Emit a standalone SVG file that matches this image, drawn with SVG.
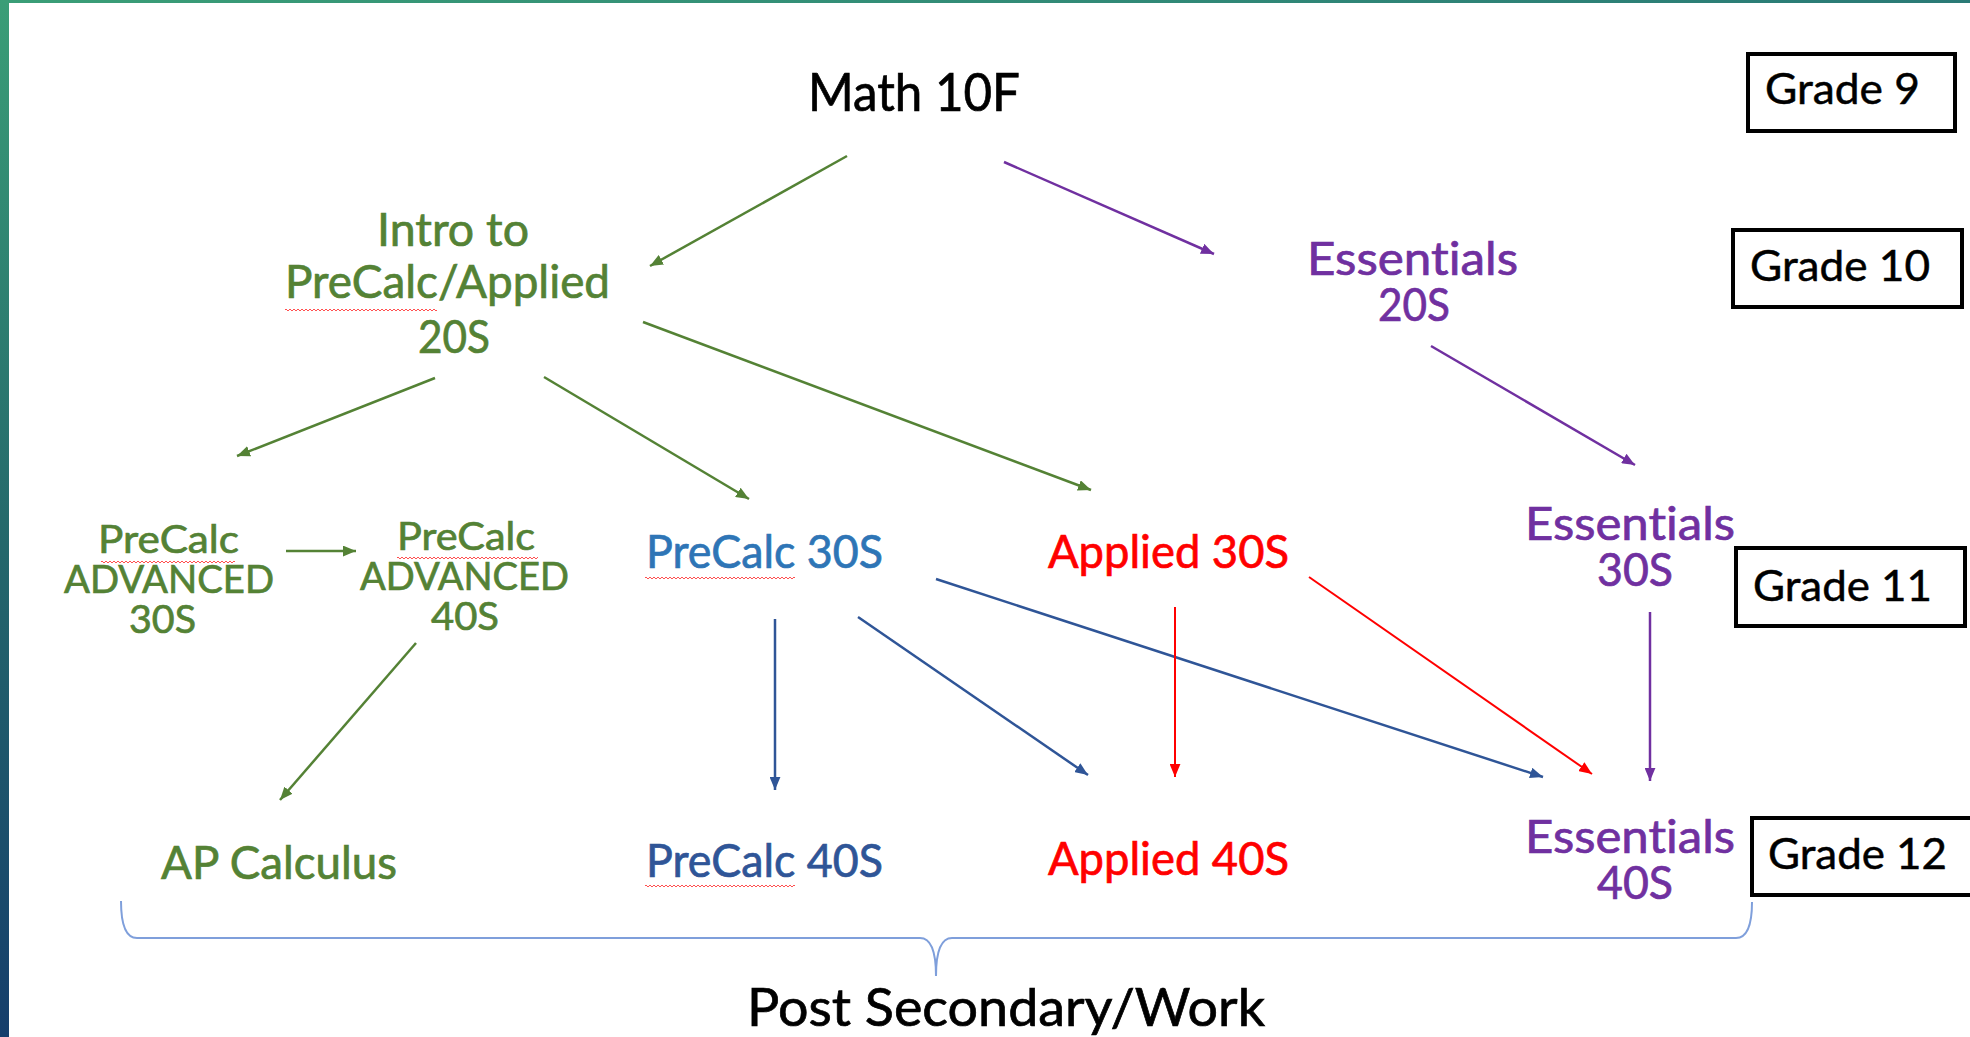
<svg xmlns="http://www.w3.org/2000/svg" width="1970" height="1037" viewBox="0 0 1970 1037">
<defs>
<linearGradient id="sideGrad" x1="0" y1="0" x2="0" y2="1">
<stop offset="0" stop-color="#3a9e77"/>
<stop offset="0.5" stop-color="#256a6c"/>
<stop offset="1" stop-color="#153e6c"/>
</linearGradient>
<linearGradient id="topGrad" x1="0" y1="0" x2="1" y2="0">
<stop offset="0" stop-color="#3a9e77"/>
<stop offset="1" stop-color="#2a7a76"/>
</linearGradient>
<pattern id="wave" width="4" height="4" patternUnits="userSpaceOnUse">
<path d="M0,3 L2,1 L4,3" fill="none" stroke="#ff5050" stroke-width="1"/>
</pattern>
<marker id="ahG" viewBox="0 0 12 10" refX="12" refY="5" markerWidth="13" markerHeight="11" markerUnits="userSpaceOnUse" orient="auto"><path d="M0,0 L12,5 L0,10 Z" fill="#548235"/></marker>
<marker id="ahP" viewBox="0 0 12 10" refX="12" refY="5" markerWidth="13" markerHeight="11" markerUnits="userSpaceOnUse" orient="auto"><path d="M0,0 L12,5 L0,10 Z" fill="#7030a0"/></marker>
<marker id="ahB" viewBox="0 0 12 10" refX="12" refY="5" markerWidth="13" markerHeight="11" markerUnits="userSpaceOnUse" orient="auto"><path d="M0,0 L12,5 L0,10 Z" fill="#2f5597"/></marker>
<marker id="ahR" viewBox="0 0 12 10" refX="12" refY="5" markerWidth="13" markerHeight="11" markerUnits="userSpaceOnUse" orient="auto"><path d="M0,0 L12,5 L0,10 Z" fill="#ff0000"/></marker>
</defs>
<style>
text { font-family: "Lato", "Open Sans", "Liberation Sans", sans-serif; font-variant-ligatures: none; stroke-width: 0.7px; }
.big { font-size: 52px; fill: #000; stroke: #000; }
.lbl { font-size: 46px; }
.adv { font-size: 39px; fill: #548235; stroke: #548235; }
.grade { font-size: 42px; fill: #000; stroke: #000; stroke-width: 0.5px; }
.green { fill: #548235; stroke: #548235; }
.purple { fill: #7030a0; stroke: #7030a0; }
.blue { fill: #2e75b6; stroke: #2e75b6; }
.dblue { fill: #2f5597; stroke: #2f5597; }
.red { fill: #ff0000; stroke: #ff0000; }
.box { fill: none; stroke: #000; stroke-width: 4; }
.cg { stroke: #548235; stroke-width: 2.5; fill: none; marker-end: url(#ahG); }
.cp { stroke: #7030a0; stroke-width: 2.5; fill: none; marker-end: url(#ahP); }
.cb { stroke: #2f5597; stroke-width: 2.5; fill: none; marker-end: url(#ahB); }
.cr { stroke: #ff0000; stroke-width: 2; fill: none; marker-end: url(#ahR); }
.brace { stroke: #7f9fdb; stroke-width: 2; fill: none; }
.wv { fill: url(#wave); }
</style>
<rect x="0" y="0" width="1970" height="1037" fill="#ffffff"/>
<rect x="0" y="0" width="1970" height="3" fill="url(#topGrad)"/>
<rect x="0" y="0" width="9" height="1037" fill="url(#sideGrad)"/>

<g id="connectors">
<line class="cg" x1="847" y1="156" x2="650" y2="266"/>
<line class="cp" x1="1004" y1="162" x2="1214" y2="254"/>
<line class="cg" x1="435" y1="378" x2="237" y2="456"/>
<line class="cg" x1="544" y1="377" x2="749" y2="499"/>
<line class="cg" x1="643" y1="322" x2="1091" y2="490"/>
<line class="cg" x1="286" y1="551" x2="356" y2="551"/>
<line class="cg" x1="416" y1="643" x2="280" y2="800"/>
<line class="cp" x1="1431" y1="346" x2="1635" y2="465"/>
<line class="cp" x1="1650" y1="612" x2="1650" y2="781"/>
<line class="cb" x1="775" y1="619" x2="775" y2="790"/>
<line class="cb" x1="858" y1="617" x2="1088" y2="775"/>
<line class="cb" x1="936" y1="579" x2="1543" y2="777"/>
<line class="cr" x1="1175" y1="607" x2="1175" y2="777"/>
<line class="cr" x1="1309" y1="577" x2="1592" y2="774"/>
<path class="brace" d="M121,901 Q121,938 137,938 L920,938 Q936,938 936,976 Q936,938 952,938 L1736,938 Q1752,938 1752,902"/>
</g>

<g id="math10f"><text class="big" x="808" y="111" textLength="212" lengthAdjust="spacingAndGlyphs">Math 10F</text></g>

<g id="intro20s">
<text class="lbl green" x="377" y="246" textLength="152" lengthAdjust="spacingAndGlyphs">Intro to</text>
<text class="lbl green" x="285" y="298" textLength="325" lengthAdjust="spacingAndGlyphs">PreCalc/Applied</text>
<text class="lbl green" x="418" y="353" textLength="72" lengthAdjust="spacingAndGlyphs">20S</text>
<rect class="wv" x="285" y="309" width="152" height="4"/>
</g>

<g id="essentials20s">
<text class="lbl purple" x="1307" y="275" textLength="211" lengthAdjust="spacingAndGlyphs">Essentials</text>
<text class="lbl purple" x="1378" y="321" textLength="72" lengthAdjust="spacingAndGlyphs">20S</text>
</g>

<g id="precalcadv30s">
<text class="adv" x="98" y="553" textLength="141" lengthAdjust="spacingAndGlyphs">PreCalc</text>
<text class="adv" x="64" y="593" textLength="210" lengthAdjust="spacingAndGlyphs">ADVANCED</text>
<text class="adv" x="129" y="633" textLength="67" lengthAdjust="spacingAndGlyphs">30S</text>
<rect class="wv" x="101" y="560" width="134" height="4"/>
</g>

<g id="precalcadv40s">
<text class="adv" x="397" y="550" textLength="138" lengthAdjust="spacingAndGlyphs">PreCalc</text>
<text class="adv" x="360" y="590" textLength="209" lengthAdjust="spacingAndGlyphs">ADVANCED</text>
<text class="adv" x="431" y="630" textLength="68" lengthAdjust="spacingAndGlyphs">40S</text>
<rect class="wv" x="397" y="557" width="141" height="4"/>
</g>

<g id="precalc30s">
<text class="lbl blue" x="646" y="568" textLength="237" lengthAdjust="spacingAndGlyphs">PreCalc 30S</text>
<rect class="wv" x="645" y="576" width="150" height="4"/>
</g>

<g id="applied30s"><text class="lbl red" x="1048" y="568" textLength="241" lengthAdjust="spacingAndGlyphs">Applied 30S</text></g>

<g id="essentials30s">
<text class="lbl purple" x="1525" y="540" textLength="210" lengthAdjust="spacingAndGlyphs">Essentials</text>
<text class="lbl purple" x="1597" y="586" textLength="76" lengthAdjust="spacingAndGlyphs">30S</text>
</g>

<g id="apcalculus"><text class="lbl green" x="161" y="879" textLength="236" lengthAdjust="spacingAndGlyphs">AP Calculus</text></g>

<g id="precalc40s">
<text class="lbl dblue" x="646" y="877" textLength="237" lengthAdjust="spacingAndGlyphs">PreCalc 40S</text>
<rect class="wv" x="645" y="885" width="150" height="4"/>
</g>

<g id="applied40s"><text class="lbl red" x="1048" y="875" textLength="241" lengthAdjust="spacingAndGlyphs">Applied 40S</text></g>

<g id="essentials40s">
<text class="lbl purple" x="1525" y="853" textLength="210" lengthAdjust="spacingAndGlyphs">Essentials</text>
<text class="lbl purple" x="1597" y="899" textLength="76" lengthAdjust="spacingAndGlyphs">40S</text>
</g>

<g id="grade9"><rect class="box" x="1748" y="54" width="207" height="77"/><text class="grade" x="1765" y="104" textLength="155" lengthAdjust="spacingAndGlyphs">Grade 9</text></g>
<g id="grade10"><rect class="box" x="1733" y="230" width="229" height="77"/><text class="grade" x="1750" y="281" textLength="180" lengthAdjust="spacingAndGlyphs">Grade 10</text></g>
<g id="grade11"><rect class="box" x="1736" y="548" width="229" height="78"/><text class="grade" x="1753" y="601" textLength="179" lengthAdjust="spacingAndGlyphs">Grade 11</text></g>
<g id="grade12"><rect class="box" x="1752" y="818" width="240" height="77"/><text class="grade" x="1768" y="869" textLength="179" lengthAdjust="spacingAndGlyphs">Grade 12</text></g>

<g id="postsecondary"><text class="big" x="747" y="1026" textLength="518" lengthAdjust="spacingAndGlyphs">Post Secondary/Work</text></g>
</svg>
